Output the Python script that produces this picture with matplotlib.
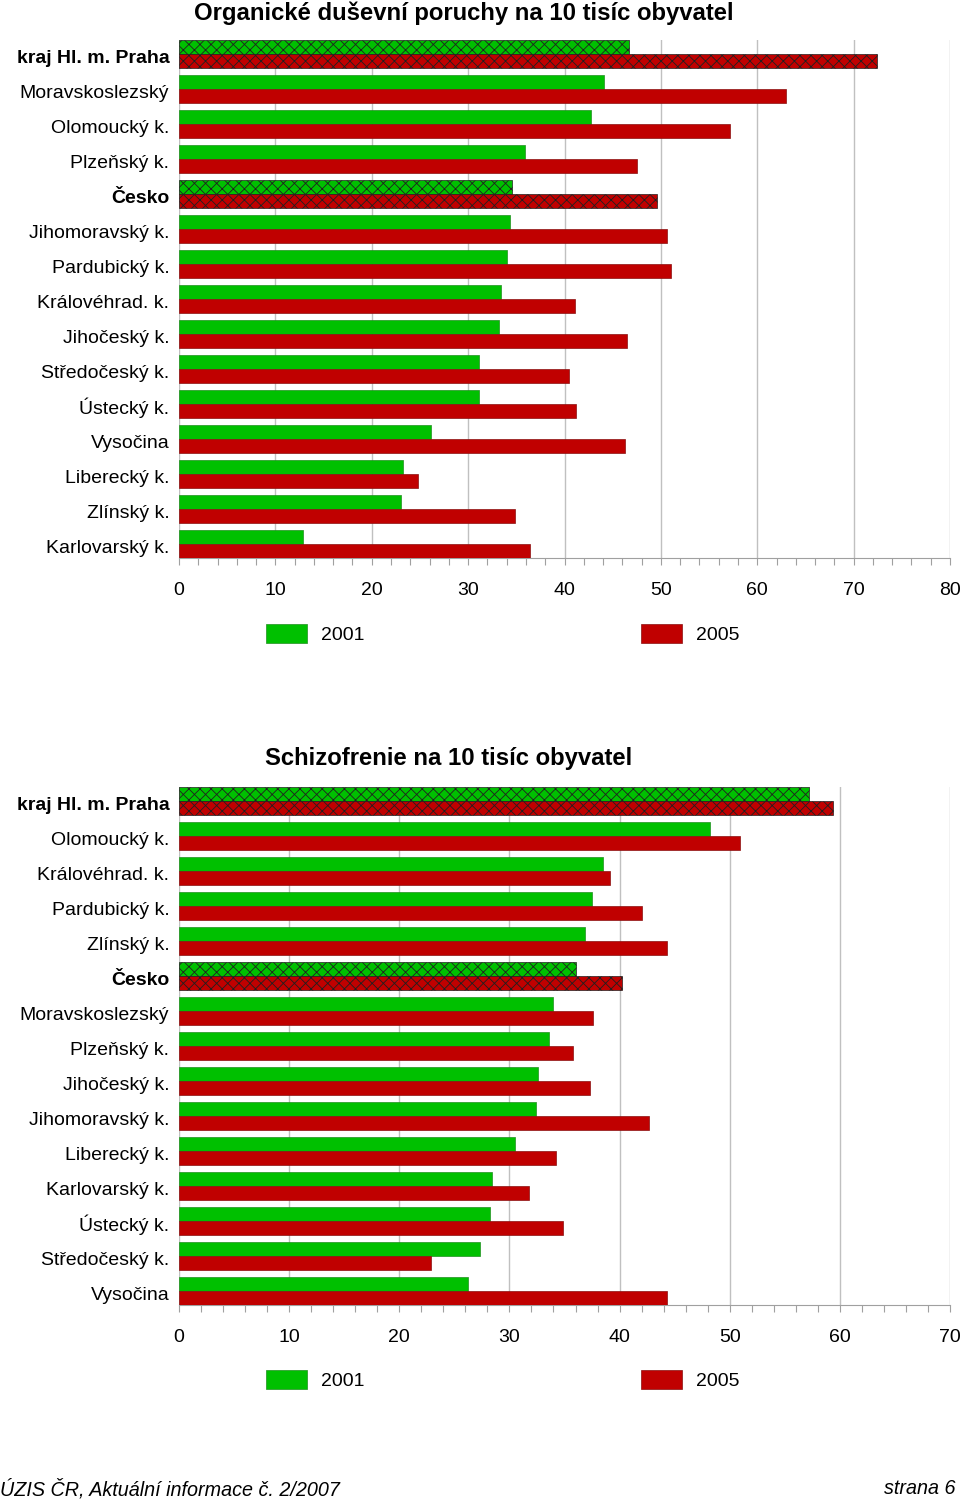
import numpy as np
import matplotlib
matplotlib.use("Agg")
import matplotlib.pyplot as plt
import matplotlib.patches as mpatches
from matplotlib.ticker import MultipleLocator

plt.rcParams['font.family'] = ['Liberation Sans', 'DejaVu Sans']
plt.rcParams['hatch.linewidth'] = 0.6

# organické duševní poruchy (na 10 tisíc obyvatel)
org_regions = ['kraj Hl. m. Praha', 'Moravskoslezský', 'Olomoucký k.', 'Plzeňský k.', 'Česko',
               'Jihomoravský k.', 'Pardubický k.', 'Královéhrad. k.', 'Jihočeský k.',
               'Středočeský k.', 'Ústecký k.', 'Vysočina', 'Liberecký k.', 'Zlínský k.',
               'Karlovarský k.']
org_2001 = [46.7, 44.1, 42.7, 35.9, 34.6, 34.3, 34.0, 33.4, 33.2, 31.1, 31.1, 26.1, 23.2, 23.0, 12.9]
org_2005 = [72.4, 63.0, 57.2, 47.5, 49.6, 50.6, 51.0, 41.1, 46.5, 40.5, 41.2, 46.3, 24.8, 34.9, 36.4]

# schizofrenie (na 10 tisíc obyvatel)
sch_regions = ['kraj Hl. m. Praha', 'Olomoucký k.', 'Královéhrad. k.', 'Pardubický k.',
               'Zlínský k.', 'Česko', 'Moravskoslezský', 'Plzeňský k.', 'Jihočeský k.',
               'Jihomoravský k.', 'Liberecký k.', 'Karlovarský k.', 'Ústecký k.',
               'Středočeský k.', 'Vysočina']
sch_2001 = [57.2, 48.2, 38.5, 37.5, 36.9, 36.0, 34.0, 33.6, 32.6, 32.4, 30.5, 28.4, 28.2, 27.3, 26.2]
sch_2005 = [59.4, 50.9, 39.1, 42.0, 44.3, 40.2, 37.6, 35.8, 37.3, 42.7, 34.2, 31.8, 34.9, 22.9, 44.3]

highlight = ['kraj Hl. m. Praha', 'Česko']
years = ['2001', '2005']

GREEN = '#00c000'
RED = '#c00000'
GREEN_EDGE = '#1f8f1f'
RED_EDGE = '#8a1010'

W, H = 960, 1501
fig = plt.figure(figsize=(W / 100, H / 100), dpi=100)


def draw_chart(ax, regions, v01, v05, xmax):
    y = np.arange(len(regions))
    h = 0.4
    for i, r in enumerate(regions):
        hatched = r in highlight
        ax.barh(y[i] - h / 2, v01[i], height=h, color=GREEN,
                edgecolor='#202020' if hatched else GREEN_EDGE, linewidth=0.5,
                hatch='xxx' if hatched else None, zorder=3)
        ax.barh(y[i] + h / 2, v05[i], height=h, color=RED,
                edgecolor='#202020' if hatched else RED_EDGE, linewidth=0.5,
                hatch='xxx' if hatched else None, zorder=3)
    ax.set_ylim(len(regions) - 0.6, -0.4)
    ax.set_xlim(0, xmax)
    ax.set_yticks(y + 0.06)
    ax.set_yticklabels(regions, fontsize=14)
    for lab in ax.get_yticklabels():
        if lab.get_text() in highlight:
            lab.set_fontweight('bold')
    ax.tick_params(axis='y', length=0, pad=7)
    ax.xaxis.set_major_locator(MultipleLocator(10))
    ax.xaxis.set_minor_locator(MultipleLocator(2))
    ax.tick_params(axis='x', which='both', direction='out', length=5, width=0.8,
                   color='#a0a0a0', labelsize=14, pad=12)
    ax.grid(axis='x', which='major', color='#c0c0c0', linewidth=1.0, zorder=0)
    ax.set_axisbelow(True)
    for s in ['top', 'right', 'left']:
        ax.spines[s].set_visible(False)
    ax.spines['bottom'].set_color('#a0a0a0')
    ax.spines['bottom'].set_linewidth(0.8)


def add_legend(y_px):
    handles = [mpatches.Patch(facecolor=GREEN, edgecolor=GREEN_EDGE, linewidth=0.5),
               mpatches.Patch(facecolor=RED, edgecolor=RED_EDGE, linewidth=0.5)]
    fig.legend(handles, years, loc='center', bbox_to_anchor=(503 / W, 1 - y_px / H),
               ncol=2, frameon=False, fontsize=14, handlelength=2.1, handleheight=1.1,
               handletextpad=0.75, columnspacing=14.2, borderpad=0)


ax1 = fig.add_axes([179 / W, 1 - 558 / H, 771 / W, 518 / H])
draw_chart(ax1, org_regions, org_2001, org_2005, 80)
fig.text(464 / W, 1 - 13 / H, 'Organické duševní poruchy na 10 tisíc obyvatel',
         ha='center', va='center', fontsize=17.2, fontweight='bold')
add_legend(634)

ax2 = fig.add_axes([179 / W, 1 - 1305 / H, 771 / W, 518 / H])
draw_chart(ax2, sch_regions, sch_2001, sch_2005, 70)
fig.text(449 / W, 1 - 759 / H, 'Schizofrenie na 10 tisíc obyvatel',
         ha='center', va='center', fontsize=17.2, fontweight='bold')
add_legend(1380)

fig.text(0 / W, 1 - 1489 / H, 'ÚZIS ČR, Aktuální informace č. 2/2007',
         ha='left', va='center', fontsize=14.2, style='italic')
fig.text(955 / W, 1 - 1489 / H, 'strana 6', ha='right', va='center', fontsize=14.2,
         style='italic')

fig.savefig('out.png', dpi=100)
